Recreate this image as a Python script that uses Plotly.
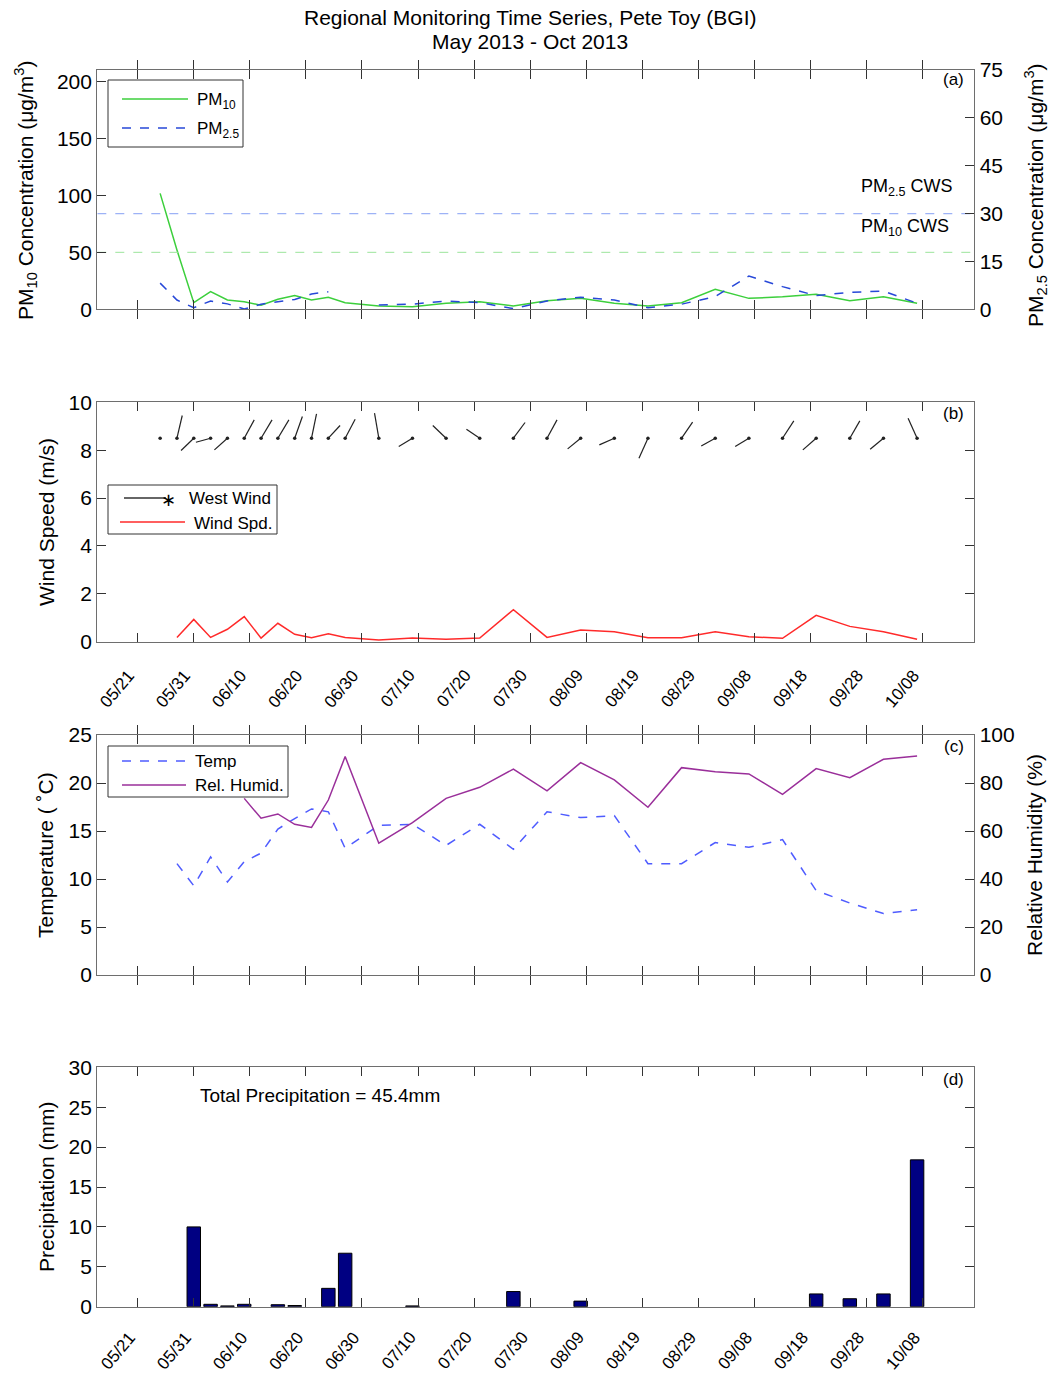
import pandas as pd
import plotly.graph_objects as go

# ---------------- data ----------------
dates = ["2013-05-25", "2013-05-28", "2013-05-31", "2013-06-03", "2013-06-06",
         "2013-06-09", "2013-06-12", "2013-06-15", "2013-06-18", "2013-06-21",
         "2013-06-24", "2013-06-27", "2013-07-03", "2013-07-09", "2013-07-15",
         "2013-07-21", "2013-07-27", "2013-08-02", "2013-08-08", "2013-08-14",
         "2013-08-20", "2013-08-26", "2013-09-01", "2013-09-07", "2013-09-13",
         "2013-09-19", "2013-09-25", "2013-10-01", "2013-10-07"]

pm10 = [101.7, 52.0, 5.8, 15.5, 8.2, 6.7, 3.5, 8.8, 12.0, 8.2,
        10.5, 5.8, 2.9, 2.3, 5.3, 6.7, 2.9, 7.5, 9.6, 5.3,
        2.9, 5.8, 17.5, 9.6, 11.0, 13.2, 7.5, 11.0, 5.3]

pm25 = [8.2, 2.9, 0.5, 2.6, 1.7, 0.1, 1.6, 2.4, 3.1, 4.8,
        5.5, None, 1.35, 1.6, 2.6, 2.1, 0.2, 2.6, 3.8, 2.9,
        0.5, 1.6, 4.0, 10.4, 7.1, 4.3, 5.3, 5.7, 1.9]

wind_spd = [None, 0.18, 0.93, 0.18, 0.52, 1.05, 0.15, 0.77, 0.31, 0.17,
            0.33, 0.18, 0.07, 0.15, 0.10, 0.15, 1.34, 0.18, 0.49, 0.42,
            0.17, 0.17, 0.42, 0.21, 0.14, 1.10, 0.64, 0.42, 0.10]

# wind direction vectors (east / north components, relative units)
wind_u = [0.0, 5.3, -12.7, -14.7, -13.0, 10.0, 11.0, 11.0, 7.7, 5.0,
          11.7, 10.0, -4.3, -13.7, -13.3, -13.3, 11.7, 10.0, -13.0, -15.0,
          -9.0, 11.0, -14.0, -13.7, 11.3, -13.3, 10.0, -13.3, -9.0]
wind_v = [0.0, 22.7, -12.3, -4.0, -11.7, 18.3, 18.3, 18.3, 21.7, 24.3,
          12.7, 19.0, 25.0, -8.3, 12.7, 9.0, 15.7, 18.3, -10.7, -6.7,
          -20.0, 16.0, -7.7, -8.3, 17.3, -11.7, 17.3, -11.0, 20.0]

temp = [None, 11.6, 9.3, 12.3, 9.7, 11.8, 12.7, 15.2, 16.3, 17.3,
        17.0, 13.2, 15.6, 15.7, 13.5, 15.7, 13.1, 17.0, 16.4, 16.6,
        11.6, 11.6, 13.8, 13.3, 14.1, 8.8, 7.5, 6.4, 6.8]

rel_humid = [None, None, None, None, None, 73.6, 65.3, 67.1, 62.8, 61.5,
             72.9, 91.0, 54.9, 63.5, 73.6, 78.2, 85.8, 76.7, 88.5, 81.3,
             69.9, 86.4, 84.7, 83.8, 75.3, 86.0, 82.2, 89.9, 91.3]

precip_dates = ["2013-05-31", "2013-06-03", "2013-06-06", "2013-06-09", "2013-06-15",
                "2013-06-18", "2013-06-24", "2013-06-27", "2013-07-09", "2013-07-27",
                "2013-08-08", "2013-09-19", "2013-09-25", "2013-10-01", "2013-10-07"]
precip_mm = [10.0, 0.3, 0.1, 0.3, 0.25, 0.15, 2.3, 6.7, 0.1, 1.9,
             0.7, 1.6, 1.0, 1.6, 18.4]

pm10_cws = 50
pm25_cws = 30

tick_dates = pd.date_range("2013-05-21", "2013-10-08", freq="10D")
tick_labels = [d.strftime("%m/%d") for d in tick_dates]

# ---------------- geometry ----------------
W, H = 1050, 1374
X0, X1 = 97.3, 974.3
PANELS = {"a": (70.0, 309.3), "b": (402.3, 641.7), "c": (735.0, 975.0), "d": (1067.3, 1306.7)}
x_range = [pd.Timestamp("2013-05-13 19:05"), pd.Timestamp("2013-10-17 04:52")]
FONT = "Liberation Sans, Arial, sans-serif"


def fx(px):
    return px / W


def fy(py):
    return 1 - py / H


def ydom(key):
    top, bot = PANELS[key]
    return [fy(bot), fy(top)]


dt = pd.to_datetime(dates)
range_days = (x_range[1] - x_range[0]) / pd.Timedelta(days=1)
px_per_day = (X1 - X0) / range_days

fig = go.Figure()

# ---- (a) particulate matter ----
fig.add_trace(go.Scatter(x=dt, y=pm10, mode="lines", line=dict(color="#3ccf3c", width=1.5),
                         connectgaps=True, showlegend=False, xaxis="x", yaxis="y"))
fig.add_trace(go.Scatter(x=dt, y=pm25, mode="lines", line=dict(color="#2748d8", width=1.5, dash="dash"),
                         connectgaps=False, showlegend=False, xaxis="x", yaxis="y2"))
fig.add_trace(go.Scatter(x=x_range, y=[pm25_cws, pm25_cws], mode="lines",
                         line=dict(color="#9db2f6", width=1.2, dash="dash"),
                         showlegend=False, xaxis="x", yaxis="y2"))
fig.add_trace(go.Scatter(x=x_range, y=[pm10_cws, pm10_cws], mode="lines",
                         line=dict(color="#9be49b", width=1, dash="dash"),
                         showlegend=False, xaxis="x", yaxis="y"))

# ---- (b) wind ----
px_per_ms = (PANELS["b"][1] - PANELS["b"][0]) / 10.0
base = 8.5
wx, wy = [], []
for d, u, v in zip(dt, wind_u, wind_v):
    if u is None:
        continue
    wx += [d, d + pd.Timedelta(days=u / px_per_day), None]
    wy += [base, base + v / px_per_ms, None]
fig.add_trace(go.Scatter(x=wx, y=wy, mode="lines", line=dict(color="#222222", width=1.2),
                         showlegend=False, xaxis="x2", yaxis="y3"))
fig.add_trace(go.Scatter(x=dt, y=[base] * len(dt), mode="markers",
                         marker=dict(color="#222222", size=3.5),
                         showlegend=False, xaxis="x2", yaxis="y3"))
fig.add_trace(go.Scatter(x=dt, y=wind_spd, mode="lines", line=dict(color="#ff2a2a", width=1.5),
                         connectgaps=True, showlegend=False, xaxis="x2", yaxis="y3"))

# ---- (c) temperature / humidity ----
fig.add_trace(go.Scatter(x=dt, y=temp, mode="lines", line=dict(color="#4f5cff", width=1.5, dash="dash"),
                         showlegend=False, xaxis="x3", yaxis="y4"))
fig.add_trace(go.Scatter(x=dt, y=rel_humid, mode="lines", line=dict(color="#9a2f9a", width=1.5),
                         showlegend=False, xaxis="x3", yaxis="y5"))

# ---- (d) precipitation ----
fig.add_trace(go.Bar(x=pd.to_datetime(precip_dates), y=precip_mm, width=2.4 * 86400000,
                     marker=dict(color="#000082", line=dict(color="#000000", width=1)),
                     showlegend=False, xaxis="x4", yaxis="y6"))

# ---------------- axes ----------------
TICK_SIZE = 21
base_axis = dict(showline=True, linecolor="#6e6e6e", linewidth=1.3, ticks="inside", ticklen=9,
                 tickcolor="#333333", tickwidth=1, showgrid=False, zeroline=False,
                 tickfont=dict(family=FONT, size=TICK_SIZE, color="black"), automargin=False)


def xaxis(anchor):
    return dict(base_axis, domain=[fx(X0), fx(X1)], anchor=anchor, range=x_range, type="date",
                mirror="allticks", tickvals=tick_dates, showticklabels=False)


fig.update_layout(
    width=W, height=H, margin=dict(l=0, r=0, t=0, b=0),
    paper_bgcolor="white", plot_bgcolor="white", showlegend=False,
    font=dict(family=FONT, color="black"),
    xaxis=xaxis("y"),
    yaxis=dict(base_axis, domain=ydom("a"), anchor="x", range=[0, 210], tickvals=[0, 50, 100, 150, 200],
               mirror=True),
    yaxis2=dict(base_axis, overlaying="y", side="right", anchor="x", range=[0, 75],
                tickvals=[0, 15, 30, 45, 60, 75]),
    xaxis2=xaxis("y3"),
    yaxis3=dict(base_axis, domain=ydom("b"), anchor="x2", range=[0, 10], tickvals=[0, 2, 4, 6, 8, 10],
                mirror="allticks"),
    xaxis3=xaxis("y4"),
    yaxis4=dict(base_axis, domain=ydom("c"), anchor="x3", range=[0, 25], tickvals=[0, 5, 10, 15, 20, 25],
                mirror=True),
    yaxis5=dict(base_axis, overlaying="y4", side="right", anchor="x3", range=[0, 100],
                tickvals=[0, 20, 40, 60, 80, 100]),
    xaxis4=xaxis("y6"),
    yaxis6=dict(base_axis, domain=ydom("d"), anchor="x4", range=[0, 30], tickvals=[0, 5, 10, 15, 20, 25, 30],
                mirror="allticks"),
)

# ---------------- text ----------------
ann = []


def text(x, y, s, size=18, xanchor="center", yanchor="middle", angle=0):
    ann.append(dict(x=fx(x), y=fy(y), xref="paper", yref="paper", text=s, showarrow=False,
                    xanchor=xanchor, yanchor=yanchor, textangle=angle,
                    font=dict(family=FONT, size=size, color="black")))


text(530, 17, "Regional Monitoring Time Series, Pete Toy (BGI)", 21)
text(530, 41, "May 2013 - Oct 2013", 21)

text(25, 190, "PM<sub>10</sub> Concentration (\u03bcg/m<sup>3</sup>)", 21, angle=-90)
text(1035, 195, "PM<sub>2.5</sub> Concentration (\u03bcg/m<sup>3</sup>)", 21, angle=-90)
text(46, 522, "Wind Speed (m/s)", 21, angle=-90)
text(46, 855, "Temperature ( \u02daC)", 21, angle=-90)
text(1035, 855, "Relative Humidity (%)", 21, angle=-90)
text(46, 1187, "Precipitation (mm)", 21, angle=-90)

text(966, 80, "(a)", 17, xanchor="right")
text(966, 413, "(b)", 17, xanchor="right")
text(966, 746, "(c)", 17, xanchor="right")
text(966, 1079, "(d)", 17, xanchor="right")

text(955, 187, "PM<sub>2.5</sub> CWS", 18, xanchor="right")
text(951, 227, "PM<sub>10</sub> CWS", 18, xanchor="right")

total = round(sum(precip_mm), 1)
text(198, 1095, f"Total Precipitation = {total}mm", 19, xanchor="left")

# rotated date labels under panels (b) and (d)
t0 = x_range[0]
for d, lab in zip(tick_dates, tick_labels):
    px = X0 + (d - t0) / pd.Timedelta(days=1) * px_per_day
    text(px - 20, PANELS["b"][1] + 47, lab, 17, angle=-50)
    text(px - 19, PANELS["d"][1] + 44, lab, 17, angle=-50)

# ---------------- legend boxes ----------------
shapes = []


def box(x0, y0, x1, y1):
    shapes.append(dict(type="rect", xref="paper", yref="paper", x0=fx(x0), x1=fx(x1), y0=fy(y1), y1=fy(y0),
                       fillcolor="white", line=dict(color="#333333", width=1), layer="above"))


def seg(x0, x1, y, color, dash="solid", width=1.3):
    shapes.append(dict(type="line", xref="paper", yref="paper", x0=fx(x0), x1=fx(x1), y0=fy(y), y1=fy(y),
                       line=dict(color=color, width=width, dash=dash), layer="above"))


box(108, 80, 243, 147)
seg(122, 188, 99, "#3ccf3c")
seg(122, 188, 128, "#2748d8", "dash")
text(195, 101, "PM<sub>10</sub>", 17, xanchor="left")
text(195, 130, "PM<sub>2.5</sub>", 17, xanchor="left")

box(108, 485, 277, 534)
seg(124, 166, 498, "#333333")
text(168, 500, "\u2217", 18, xanchor="center")
seg(120, 185, 522, "#ff2a2a")
text(187, 498, "West Wind", 17, xanchor="left")
text(192, 523, "Wind Spd.", 17, xanchor="left")

box(108, 746, 288, 797)
seg(122, 186, 761, "#4f5cff", "dash")
seg(122, 186, 785, "#9a2f9a")
text(193, 761, "Temp", 17, xanchor="left")
text(193, 785, "Rel. Humid.", 17, xanchor="left")

fig.update_layout(annotations=ann, shapes=shapes)

fig.write_html("out.html")
